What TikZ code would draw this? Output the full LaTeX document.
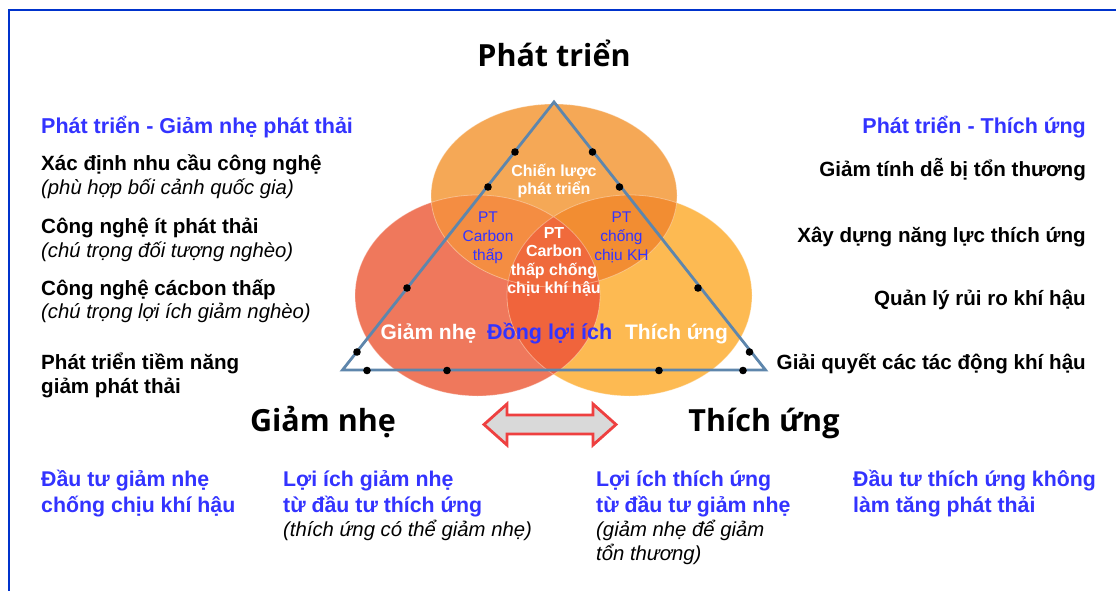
\documentclass[tikz,border=0pt]{standalone}
\usepackage{fontspec}
\setmainfont{Liberation Sans}
\newfontfamily\titlefont{Open Sans}
\definecolor{frameblue}{RGB}{0,51,204}
\definecolor{txtblue}{RGB}{51,51,255}
\definecolor{ctop}{RGB}{245,168,86}
\definecolor{cleft}{RGB}{239,120,92}
\definecolor{cright}{RGB}{253,186,82}
\definecolor{ctl}{RGB}{244,141,66}
\definecolor{ctr}{RGB}{242,141,50}
\definecolor{clr}{RGB}{240,100,60}
\definecolor{cmid}{RGB}{240,106,60}
\definecolor{triline}{RGB}{94,134,172}
\definecolor{arrred}{RGB}{238,64,64}
\definecolor{arrgray}{RGB}{217,217,217}
\tikzset{
  hd/.style={font=\bfseries\fontsize{21.5}{25}\selectfont, text=txtblue, inner sep=0pt},
  bhd/.style={font=\bfseries\fontsize{21.3}{25}\selectfont, text=txtblue, inner sep=0pt},
  bk/.style={font=\bfseries\fontsize{20.6}{25}\selectfont, text=black, inner sep=0pt},
  itx/.style={font=\itshape\fontsize{20.3}{25}\selectfont, text=black, inner sep=0pt},
  ttl/.style={font=\titlefont\bfseries\fontsize{30.5}{36}\selectfont, text=black, inner sep=0pt},
  wsm/.style={font=\bfseries\fontsize{16}{19}\selectfont, text=white, inner sep=0pt, anchor=base},
  bsm/.style={font=\fontsize{15.5}{19}\selectfont, text=txtblue, inner sep=0pt, anchor=base},
  wbig/.style={font=\bfseries\fontsize{21}{25}\selectfont, text=white, inner sep=0pt, anchor=base},
  ell/.style={x radius=122.5pt, y radius=100.5pt},
  ellt/.style={x radius=123pt, y radius=91.5pt},
  dot/.style={fill=black},
}
\begin{document}
\begin{tikzpicture}[x=1pt,y=-1pt]
\useasboundingbox[fill=white] (0,0) rectangle (1116,591);
% frame
\draw[frameblue, line width=2.2pt] (9,595) -- (9,10) -- (1120,10);
% ellipse centres
\coordinate (Lc) at (477.5,295.5);
\coordinate (Rc) at (629.5,295.5);
\coordinate (Tc) at (554,195.5);
% venn fills
\fill[cleft] (Lc) ellipse [ell];
\fill[cright] (Rc) ellipse [ell];
\fill[ctop] (Tc) ellipse [ellt];
\begin{scope}
  \clip (Lc) ellipse [ell];
  \fill[clr] (Rc) ellipse [ell];
\end{scope}
\begin{scope}
  \clip (Tc) ellipse [ellt];
  \fill[ctl] (Lc) ellipse [ell];
\end{scope}
\begin{scope}
  \clip (Tc) ellipse [ellt];
  \fill[ctr] (Rc) ellipse [ell];
\end{scope}
\begin{scope}
  \clip (Tc) ellipse [ellt];
  \clip (Lc) ellipse [ell];
  \fill[cmid] (Rc) ellipse [ell];
\end{scope}
\draw[white, opacity=0.35, line width=0.8pt] (Lc) ellipse [ell] (Rc) ellipse [ell] (Tc) ellipse [ellt];
% triangle
\coordinate (A) at (554,102);
\coordinate (B) at (342.5,370);
\coordinate (C) at (765.5,370);
\draw[triline, line width=2.8pt, line join=miter] (A) -- (B) -- (C) -- cycle;
\foreach \p in {(515,152),(592.5,152),(488,187),(619.5,187),(407,288),(698,288),(357,352),(749.5,352),(367,370.5),(447,370.5),(659,370.5),(743,370.5)}
  \fill[dot] \p circle (3.8pt);
% double arrow
\draw[arrred, fill=arrgray, line width=2.8pt, line join=miter]
  (484,424.5) -- (507,404) -- (507,415) -- (593,415) -- (593,404) -- (616,424.5)
  -- (593,445) -- (593,434) -- (507,434) -- (507,445) -- cycle;
% titles
\node[ttl, anchor=base] (tPT) at (554,67) {Phát triển};
\node[ttl, anchor=base] (tGN) at (323,431) {Giảm nhẹ};
\node[ttl, anchor=base] (tTU) at (764,431) {Thích ứng};
% left column
\node[hd, anchor=base west] (hL) at (41,134) {Phát triển - Giảm nhẹ phát thải};
\node[bk, anchor=base west] (l1) at (41,171) {Xác định nhu cầu công nghệ};
\node[itx, anchor=base west] (l1i) at (41,194) {(phù hợp bối cảnh quốc gia)};
\node[bk, anchor=base west] (l2) at (41,233) {Công nghệ ít phát thải};
\node[itx, anchor=base west] (l2i) at (41,257) {(chú trọng đối tượng nghèo)};
\node[bk, anchor=base west] (l3) at (41,295) {Công nghệ cácbon thấp};
\node[itx, anchor=base west] (l3i) at (41,318) {(chú trọng lợi ích giảm nghèo)};
\node[bk, anchor=base west] (l4) at (41,369) {Phát triển tiềm năng};
\node[bk, anchor=base west] (l4b) at (41,393) {giảm phát thải};
% right column
\node[hd, anchor=base east] (hR) at (1086,134) {Phát triển - Thích ứng};
\node[bk, anchor=base east] (r1) at (1086,176) {Giảm tính dễ bị tổn thương};
\node[bk, anchor=base east] (r2) at (1086,242) {Xây dựng năng lực thích ứng};
\node[bk, anchor=base east] (r3) at (1086,305) {Quản lý rủi ro khí hậu};
\node[bk, anchor=base east] (r4) at (1086,369) {Giải quyết các tác động khí hậu};
% bottom
\node[bhd, anchor=base west] (b1a) at (41,486) {Đầu tư giảm nhẹ};
\node[bhd, anchor=base west] (b1b) at (41,512) {chống chịu khí hậu};
\node[bhd, anchor=base west] (b2a) at (283,486) {Lợi ích giảm nhẹ};
\node[bhd, anchor=base west] (b2b) at (283,512) {từ đầu tư thích ứng};
\node[itx, anchor=base west] (b2c) at (283,536) {(thích ứng có thể giảm nhẹ)};
\node[bhd, anchor=base west] (b3a) at (596,486) {Lợi ích thích ứng};
\node[bhd, anchor=base west] (b3b) at (596,512) {từ đầu tư giảm nhẹ};
\node[itx, anchor=base west] (b3c) at (596,536) {(giảm nhẹ để giảm};
\node[itx, anchor=base west] (b3d) at (596,560) {tổn thương)};
\node[bhd, anchor=base west] (b4a) at (853,486) {Đầu tư thích ứng không};
\node[bhd, anchor=base west] (b4b) at (853,512) {làm tăng phát thải};
% inside venn
\node[wsm] (s1) at (554,176) {Chiến lược};
\node[wsm] (s2) at (554,194.3) {phát triển};
\node[bsm] (p1) at (488,222) {PT};
\node[bsm] (p2) at (488,241.7) {Carbon};
\node[bsm] (p3) at (488,260) {thấp};
\node[bsm] (q1) at (621.5,222) {PT};
\node[bsm] (q2) at (621.5,241.7) {chống};
\node[bsm] (q3) at (621.5,260) {chịu KH};
\node[wsm] (c1) at (554,238.3) {PT};
\node[wsm] (c2) at (554,256.7) {Carbon};
\node[wsm] (c3) at (554,275) {thấp chống};
\node[wsm] (c4) at (554,293.3) {chịu khí hậu};
\node[wbig] (g1) at (428.5,339) {Giảm nhẹ};
\node[wbig, text=txtblue, font=\bfseries\fontsize{21.5}{25}\selectfont] (g2) at (549.7,339) {Đồng lợi ích};
\node[wbig] (g3) at (676.5,339) {Thích ứng};
\end{tikzpicture}
\end{document}
